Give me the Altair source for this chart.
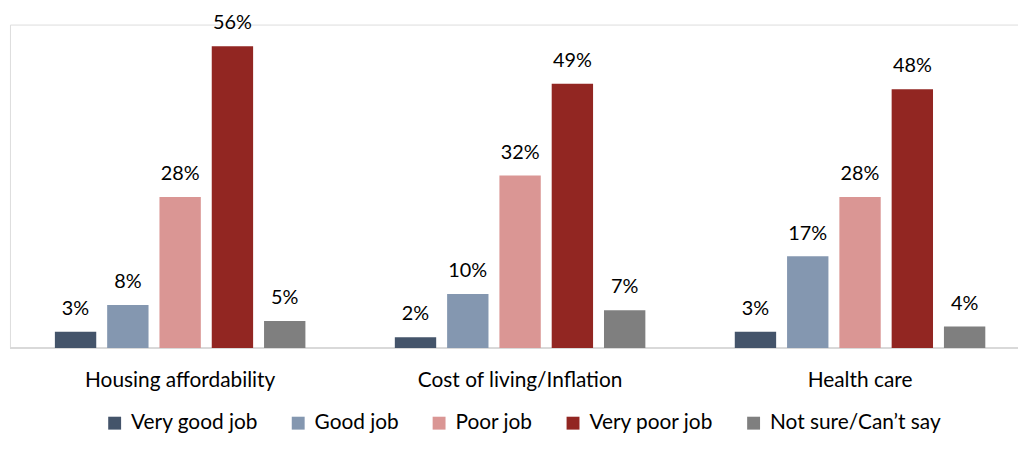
import altair as alt
import pandas as pd

categories = ["Housing affordability", "Cost of living/Inflation", "Health care"]
responses = ["Very good job", "Good job", "Poor job", "Very poor job", "Not sure/Can\u2019t say"]
colors = ["#44546A", "#8497B0", "#DA9694", "#922622", "#7F7F7F"]
values = {
    "Housing affordability": [3, 8, 28, 56, 5],
    "Cost of living/Inflation": [2, 10, 32, 49, 7],
    "Health care": [3, 17, 28, 48, 4],
}

rows = []
for c in categories:
    for r, v in zip(responses, values[c]):
        rows.append({"category": c, "response": r, "value": v, "label": f"{v}%"})
df = pd.DataFrame(rows)

FONT = "Lato"

x_enc = alt.X(
    "category:N",
    sort=categories,
    scale=alt.Scale(paddingInner=0.08, paddingOuter=0.0226, align=0.897),
    axis=alt.Axis(
        title=None,
        domain=False,
        ticks=False,
        tickSize=0,
        labelAngle=0,
        labelFont=FONT,
        labelFontSize=21,
        labelColor="#000000",
        labelBaseline="alphabetic",
        labelPadding=39,
        labelLimit=500,
        grid=False,
    ),
)
xo_enc = alt.XOffset(
    "response:N", sort=responses, scale=alt.Scale(paddingInner=0.209, paddingOuter=0.595)
)
y_enc = alt.Y("value:Q", scale=alt.Scale(domain=[0, 60]), axis=None)

base = alt.Chart(df)

baseline = alt.Chart(pd.DataFrame({"zero": [0]})).mark_rule(
    color="#D9D9D9", strokeWidth=2
).encode(y=alt.Y("zero:Q", scale=alt.Scale(domain=[0, 60]), axis=None))

bars = base.mark_bar().encode(
    x=x_enc,
    xOffset=xo_enc,
    y=y_enc,
    color=alt.Color(
        "response:N",
        sort=responses,
        scale=alt.Scale(domain=responses, range=colors),
        legend=alt.Legend(
            title=None,
            orient="none",
            direction="horizontal",
            legendX=95,
            legendY=391,
            symbolType="square",
            symbolSize=169,
            symbolStrokeWidth=0,
            symbolOpacity=1,
            labelFont=FONT,
            labelFontSize=21,
            labelColor="#000000",
            labelOffset=6,
            columnPadding=30,
            padding=0,
            labelLimit=400,
        ),
    ),
)

labels = base.mark_text(
    baseline="alphabetic", dy=-17, font=FONT, fontSize=20, color="#000000"
).encode(x=x_enc, xOffset=xo_enc, y=y_enc, text="label:N")

chart = (
    alt.layer(baseline, bars, labels)
    .properties(
        width=1016,
        height=326,
        autosize=alt.AutoSizeParams(type="none"),
        padding={"left": 2, "top": 15, "right": 0, "bottom": 89},
    )
    .configure_view(stroke="#FFFFFF", strokeWidth=3, fill="#FFFFFF")
    .configure_axis(grid=False, domain=False)
    .configure(font=FONT, background="#FFFFFF")
)

chart.save("out.html", embed_options={"renderer": "svg", "actions": False})
